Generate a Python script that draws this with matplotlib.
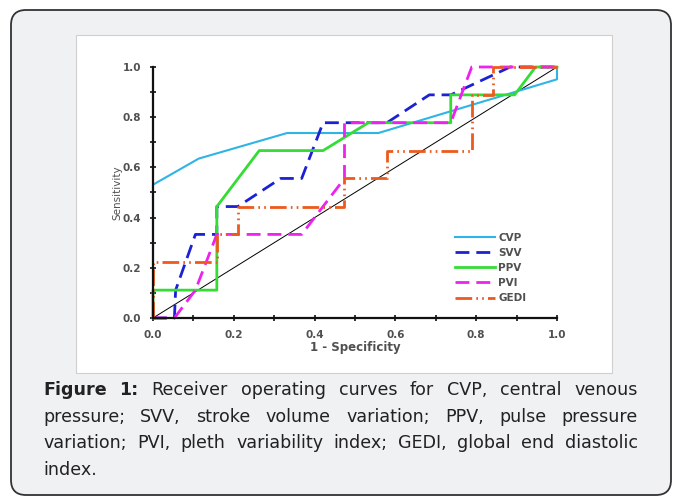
import matplotlib
matplotlib.use("Agg")
import matplotlib.pyplot as plt
import matplotlib.patches as mpatches
from matplotlib.ticker import MultipleLocator

# ROC curves (1 - specificity, sensitivity)
fpr_cvp = [0.0, 0.0, 0.113, 0.332, 0.558, 1.0, 1.0]
tpr_cvp = [0.0, 0.531, 0.635, 0.737, 0.737, 0.951, 1.0]

fpr_svv = [0.0, 0.053, 0.056, 0.105, 0.158, 0.158, 0.210, 0.316, 0.368, 0.421, 0.579, 0.684, 0.737, 0.884, 1.0]
tpr_svv = [0.0, 0.0, 0.111, 0.333, 0.333, 0.444, 0.444, 0.556, 0.556, 0.778, 0.778, 0.889, 0.889, 1.0, 1.0]

fpr_ppv = [0.0, 0.0, 0.158, 0.158, 0.263, 0.421, 0.533, 0.737, 0.737, 0.895, 0.947, 1.0]
tpr_ppv = [0.0, 0.111, 0.111, 0.444, 0.667, 0.667, 0.778, 0.778, 0.889, 0.889, 1.0, 1.0]

fpr_pvi = [0.0, 0.053, 0.105, 0.158, 0.368, 0.474, 0.474, 0.737, 0.789, 1.0]
tpr_pvi = [0.0, 0.0, 0.111, 0.333, 0.333, 0.556, 0.778, 0.778, 1.0, 1.0]

fpr_gedi = [0.0, 0.0, 0.158, 0.158, 0.211, 0.211, 0.474, 0.474, 0.579, 0.579, 0.789, 0.789, 0.842, 0.842, 1.0]
tpr_gedi = [0.0, 0.222, 0.222, 0.333, 0.333, 0.444, 0.444, 0.556, 0.556, 0.667, 0.667, 0.889, 0.889, 1.0, 1.0]

labels = ["CVP", "SVV", "PPV", "PVI", "GEDI"]
ticks = [0.0, 0.2, 0.4, 0.6, 0.8, 1.0]

caption_lines = [
    "Figure 1: Receiver operating curves for CVP, central venous",
    "pressure; SVV, stroke volume variation; PPV, pulse pressure",
    "variation; PVI, pleth variability index; GEDI, global end diastolic",
    "index.",
]

W, H = 673, 497
fig = plt.figure(figsize=(W / 100, H / 100), dpi=100)
fig.patch.set_facecolor("white")

# card background and white plot panel
card = mpatches.FancyBboxPatch((11 / 100 + 0.15, 2 / 100 + 0.15), (660 / 100) - 0.3, (485 / 100) - 0.3,
                               boxstyle="round,pad=0.15", transform=fig.dpi_scale_trans,
                               facecolor="#f0f1f3", edgecolor="#333333", lw=1.3, zorder=-3)
fig.patches.append(card)
panel = mpatches.Rectangle((76 / W, 1 - 373 / H), (612 - 76) / W, (373 - 35) / H,
                           transform=fig.transFigure, facecolor="white",
                           edgecolor="#cfcfcf", lw=0.8, zorder=-2)
fig.patches.append(panel)

ax = fig.add_axes([153 / W, 1 - 318 / H, 404 / W, 251 / H])
ax.set_facecolor("none")

ax.plot([0, 1], [0, 1], color="black", lw=0.7)
ax.plot(fpr_cvp, tpr_cvp, color="#2fb4e6", lw=1.5, label=labels[0], clip_on=False)
ax.plot(fpr_svv, tpr_svv, color="#1c22d4", lw=2.0, dashes=(5, 2.5), label=labels[1], clip_on=False)
ax.plot(fpr_ppv, tpr_ppv, color="#35dc35", lw=2.0, label=labels[2], clip_on=False)
ax.plot(fpr_pvi, tpr_pvi, color="#ee22ee", lw=2.0, dashes=(5, 2.5), label=labels[3], clip_on=False)
ax.plot(fpr_gedi, tpr_gedi, color="#ee5a1e", lw=2.0, dashes=(6, 1.5, 0.6, 1.5, 0.6, 1.5),
        label=labels[4], clip_on=False)

ax.set_xlim(0, 1)
ax.set_ylim(0, 1)
for s in ["top", "right"]:
    ax.spines[s].set_visible(False)
for s in ["left", "bottom"]:
    ax.spines[s].set_linewidth(1.6)
    ax.spines[s].set_color("#111111")
ax.set_xticks(ticks)
ax.set_yticks(ticks)
ax.set_xticklabels(["%.1f" % t for t in ticks])
ax.set_yticklabels(["%.1f" % t for t in ticks])
ax.xaxis.set_minor_locator(MultipleLocator(0.1))
ax.yaxis.set_minor_locator(MultipleLocator(0.1))
ax.tick_params(which="both", direction="inout", length=5, width=1.2, color="#111111")
ax.tick_params(labelsize=7.5, labelcolor="#505050", pad=6)
for lab in ax.get_xticklabels() + ax.get_yticklabels():
    lab.set_fontweight("bold")

ax.text(0.5, -0.118, "1 - Specificity", transform=ax.transAxes, ha="center", va="center",
        fontsize=8.5, color="#505050", fontweight="bold")
ax.text(-0.087, 0.5, "Sensitivity", transform=ax.transAxes, rotation=90, ha="center", va="center",
        fontsize=7.5, color="#505050")

leg = ax.legend(loc="lower left", bbox_to_anchor=(0.724, 0.021), frameon=False, handlelength=3.85,
                handletextpad=0.3, labelspacing=0.5, fontsize=7.5)
for t in leg.get_texts():
    t.set_color("#505050")
    t.set_fontweight("bold")

# justified caption
fig.canvas.draw()
renderer = fig.canvas.get_renderer()
x0, x1 = 43, 638
baselines = [395, 422, 448, 475]
fs = 12.6
for i, line in enumerate(caption_lines):
    words = line.split(" ")
    weights = ["bold" if (i == 0 and j < 2) else "normal" for j in range(len(words))]
    texts = []
    for w, wt in zip(words, weights):
        t = fig.text(0, 1 - baselines[i] / H, w, fontsize=fs, fontweight=wt, color="#222222",
                     family="DejaVu Sans", va="baseline", ha="left")
        texts.append(t)
    widths = [t.get_window_extent(renderer).width for t in texts]
    if i < len(caption_lines) - 1:
        gap = (x1 - x0 - sum(widths)) / (len(words) - 1)
    else:
        gap = fs * 0.3 * 100 / 72
    x = x0
    for t, wdt in zip(texts, widths):
        t.set_x(x / W)
        x += wdt + gap

fig.savefig("out.png", dpi=100)
